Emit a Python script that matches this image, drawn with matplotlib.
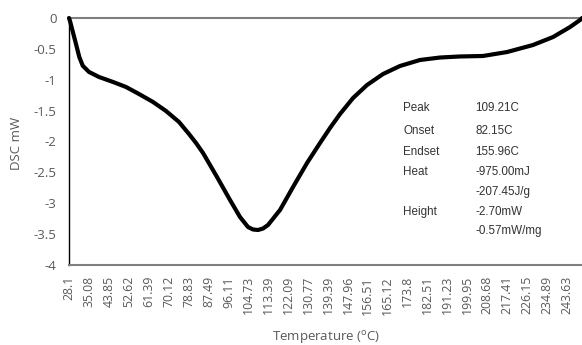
import matplotlib
matplotlib.use("Agg")
import matplotlib.pyplot as plt
import numpy as np

# Category tick labels (temperature, °C) shown on the x axis
temp_labels = ["28.1", "35.08", "43.85", "52.62", "61.39", "70.12", "78.83",
               "87.49", "96.11", "104.73", "113.39", "122.09", "130.77",
               "139.39", "147.96", "156.51", "165.12", "173.8", "182.51",
               "191.23", "199.95", "208.68", "217.41", "226.15", "234.89",
               "243.63"]

# Curve samples: position along category axis (in label-interval units) and DSC signal (mW)
sample_pos = [0.0, 0.05, 0.351, 0.517, 0.688, 1.004, 1.506, 2.209, 2.861,
              3.514, 4.217, 4.869, 5.522, 6.024, 6.376, 6.727, 7.430, 8.082,
              8.584, 8.986, 9.237, 9.488, 9.739, 9.990, 10.592, 11.245,
              11.948, 12.600, 13.102, 13.604, 14.257, 14.960, 15.763, 16.616,
              17.620, 18.624, 19.628, 20.783, 21.988, 23.293, 24.297, 25.151,
              25.653, 25.753]
dsc_mw = [0.0, -0.049, -0.421, -0.632, -0.772, -0.874, -0.955, -1.036, -1.117,
          -1.231, -1.360, -1.506, -1.684, -1.879, -2.024, -2.186, -2.575,
          -2.947, -3.223, -3.385, -3.425, -3.433, -3.409, -3.352, -3.109,
          -2.737, -2.348, -2.024, -1.781, -1.555, -1.296, -1.085, -0.907,
          -0.777, -0.680, -0.640, -0.623, -0.615, -0.551, -0.437, -0.308,
          -0.146, -0.032, 0.0]

y_ticks = [0, -0.5, -1, -1.5, -2, -2.5, -3, -3.5, -4]
y_tick_labels = ["0", "-0.5", "-1", "-1.5", "-2", "-2.5", "-3", "-3.5", "-4"]

ann_names = ["Peak", "Onset", "Endset", "Heat", "", "Height", ""]
ann_values = ["109.21C", "82.15C", "155.96C", "-975.00mJ", "-207.45J/g",
              "-2.70mW", "-0.57mW/mg"]

W, H = 582, 345
fig = plt.figure(figsize=(W / 100, H / 100), dpi=100)
ax_l, ax_r, ax_t, ax_b = 69, 582, 18, 265
ax = fig.add_axes([ax_l / W, 1 - ax_b / H, (ax_r - ax_l) / W, (ax_b - ax_t) / H])

ax.plot(sample_pos, dsc_mw, color="black", lw=3.0, solid_joinstyle="round",
        solid_capstyle="round", clip_on=False, zorder=3)

ax.set_xlim(0, 25.75)
ax.set_ylim(-4, 0)

ax.set_xticks(np.arange(len(temp_labels)))
ax.set_xticklabels(temp_labels, rotation=90, fontfamily="Open Sans",
                   fontsize=8.8, color="#595959")
ax.set_yticks(y_ticks)
ax.set_yticklabels(y_tick_labels, fontfamily="Open Sans", fontsize=9.5,
                   color="#595959")
ax.tick_params(axis="x", length=0, pad=8)
ax.tick_params(axis="y", length=0, pad=9)

for side in ["top", "bottom"]:
    ax.spines[side].set_color("#7f7f7f")
    ax.spines[side].set_linewidth(1.5)
ax.spines["left"].set_color("black")
ax.spines["left"].set_linewidth(1.0)
ax.spines["right"].set_visible(False)

fig.text(16 / W, 1 - 143 / H, "DSC mW", rotation=90, ha="center", va="center",
         fontfamily="Open Sans", fontsize=9.5, color="#595959")
fig.text(326 / W, 1 - 337 / H, "Temperature ($^{\\mathregular{o}}$C)",
         ha="center", va="center", fontfamily="Open Sans", fontsize=9.5,
         color="#595959")

row_y = [108, 131, 152, 172, 192, 212, 231]
for name, val, yy in zip(ann_names, ann_values, row_y):
    fy = 1 - (yy - ax_t) / (ax_b - ax_t)
    if name:
        ax.text((403 - ax_l) / (ax_r - ax_l), fy, name, transform=ax.transAxes,
                ha="left", va="center", fontfamily="Liberation Sans",
                fontsize=8.4, color="#333333")
    ax.text((475 - ax_l) / (ax_r - ax_l), fy, val, transform=ax.transAxes,
            ha="left", va="center", fontfamily="Liberation Sans",
            fontsize=8.4, color="#333333")

fig.savefig("out.png", dpi=100)
